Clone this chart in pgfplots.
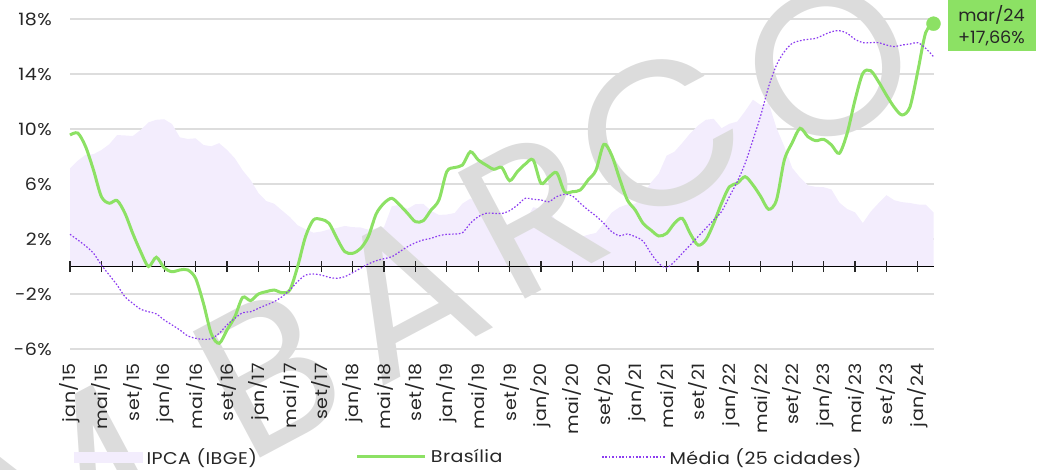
\documentclass[border=0pt]{standalone}
\usepackage{fontspec}
\setmainfont{Poppins}[FakeStretch=1.12, LetterSpace=2.5]
\newfontfamily\wmfont{Poppins}
\newfontfamily\boxfont{Poppins}[FakeStretch=1.04]
\usepackage{pgfplots}
\usepackage{pgfplotstable}
\pgfplotsset{compat=1.18}
\definecolor{lgreen}{RGB}{140,225,100}
\definecolor{vio}{RGB}{140,60,240}
\definecolor{lav}{RGB}{243,237,253}
\definecolor{gridc}{RGB}{221,221,221}
\definecolor{wm}{RGB}{220,220,220}

\pgfplotstableread{
m ipca bsb media
0 7.14 9.56 2.34
1 7.70 9.70 1.93
2 8.13 8.70 1.49
3 8.17 7.00 0.96
4 8.47 5.08 0.11
5 8.89 4.60 -0.62
6 9.56 4.80 -1.35
7 9.53 3.87 -2.20
8 9.49 2.40 -2.68
9 9.93 1.08 -3.11
10 10.48 0.00 -3.29
11 10.67 0.67 -3.45
12 10.71 -0.10 -3.89
13 10.36 -0.38 -4.25
14 9.39 -0.25 -4.62
15 9.28 -0.25 -5.05
16 9.32 -0.86 -5.22
17 8.84 -2.68 -5.30
18 8.74 -4.90 -5.25
19 8.97 -5.59 -4.86
20 8.48 -4.62 -4.25
21 7.87 -3.65 -3.77
22 6.99 -2.24 -3.36
23 6.29 -2.48 -3.29
24 5.35 -2.00 -3.04
25 4.76 -1.83 -2.80
26 4.57 -1.71 -2.56
27 4.08 -1.90 -2.20
28 3.60 -1.71 -1.71
29 3.00 0.00 -1.10
30 2.71 2.17 -0.62
31 2.46 3.38 -0.55
32 2.54 3.43 -0.62
33 2.70 3.14 -0.79
34 2.80 2.05 -0.86
35 2.95 1.08 -0.74
36 2.86 0.96 -0.45
37 2.84 1.30 -0.13
38 2.68 2.17 0.18
39 2.76 3.82 0.42
40 2.86 4.60 0.57
41 4.39 4.96 0.71
42 4.48 4.47 1.08
43 4.19 3.87 1.44
44 4.53 3.26 1.73
45 4.56 3.33 1.93
46 4.05 4.11 2.05
47 3.75 4.84 2.24
48 3.78 6.90 2.34
49 3.89 7.20 2.36
50 4.58 7.38 2.46
51 4.94 8.35 3.14
52 4.66 7.75 3.62
53 3.37 7.38 3.87
54 3.22 7.07 3.87
55 3.43 7.20 3.85
56 2.89 6.24 4.06
57 2.54 6.90 4.47
58 3.27 7.45 4.96
59 4.31 7.75 4.89
60 4.19 6.05 4.84
61 4.01 6.49 4.71
62 3.30 6.82 5.08
63 2.40 5.44 5.25
64 1.88 5.44 5.13
65 2.13 5.56 4.60
66 2.31 6.29 4.11
67 2.44 7.00 3.67
68 3.14 8.88 3.14
69 3.92 8.10 2.53
70 4.31 6.41 2.24
71 4.52 4.84 2.36
72 4.56 4.11 2.17
73 5.20 3.14 1.85
74 6.10 2.65 0.96
75 6.76 2.22 0.23
76 8.06 2.41 -0.09
77 8.35 3.14 0.35
78 8.99 3.50 0.96
79 9.68 2.41 1.56
80 10.25 1.56 2.17
81 10.67 1.93 2.78
82 10.74 3.14 3.38
83 10.06 4.60 3.99
84 10.38 5.80 5.08
85 10.54 6.05 6.17
86 11.30 6.53 7.50
87 12.13 5.93 9.20
88 11.73 5.08 11.00
89 11.89 4.16 13.08
90 10.07 4.84 14.65
91 8.73 7.75 15.62
92 7.17 9.00 16.23
93 6.47 10.05 16.42
94 5.90 9.44 16.52
95 5.79 9.15 16.59
96 5.77 9.25 16.84
97 5.60 8.84 17.08
98 4.65 8.23 17.15
99 4.18 9.69 16.96
100 3.94 12.10 16.52
101 3.16 14.05 16.28
102 3.99 14.24 16.28
103 4.61 13.44 16.28
104 5.19 12.47 16.11
105 4.82 11.58 15.99
106 4.68 11.02 16.11
107 4.62 11.60 16.18
108 4.51 14.20 16.28
109 4.50 17.00 15.87
110 3.93 17.66 15.26
}\data

\begin{document}
\begin{tikzpicture}
\path[use as bounding box] (0,0) rectangle (1045pt,469pt);
\pgfplotsset{
  common/.style={
    at={(70pt,120pt)}, anchor=south west,
    scale only axis, width=863.5pt, height=330pt,
    xmin=0, xmax=110, ymin=-6, ymax=18,
    axis line style={draw=none},
    major tick length=0pt,
    tick style={draw=none},
    ytick={-6,-2,2,6,10,14,18},
  }
}
% background axis: grid and area
\begin{axis}[common,
  xtick=\empty,
  yticklabels={,,,,,,},
  ymajorgrids,
  grid style={color=gridc, line width=1.2pt},
]
\addplot[fill=lav, draw=none] table[x=m, y=ipca]{\data} \closedcycle;
\end{axis}

% watermark
\begin{scope}[every node/.style={text=wm, font=\wmfont\fontsize{205}{205}\selectfont, rotate=28, inner sep=0pt}]
\node at (62pt,-12pt) {M};
\node at (268pt,96pt) {B};
\node at (405pt,175pt) {A};
\node at (533pt,255pt) {R};
\node at (660pt,335pt) {C};
\node at (828pt,405pt) {O};
\end{scope}

% foreground axis: labels, zero line, lines, legend
\begin{axis}[common,
  clip=false,
  xtick={0,4,...,108},
  yticklabels={-6\%,-2\%,2\%,6\%,10\%,14\%,18\%},
  xticklabels={jan/15,mai/15,set/15,jan/16,mai/16,set/16,jan/17,mai/17,set/17,jan/18,mai/18,set/18,jan/19,mai/19,set/19,jan/20,mai/20,set/20,jan/21,mai/21,set/21,jan/22,mai/22,set/22,jan/23,mai/23,set/23,jan/24},
  yticklabel style={inner sep=0pt, anchor=east, xshift=-18pt, font=\fontsize{17}{19}\selectfont, text=black!85},
  xticklabel style={inner sep=0pt, yshift=-14pt, rotate=90, anchor=east, font=\fontsize{17}{19}\selectfont, text=black!85},
  legend style={at={(0.0046,-0.327)}, anchor=west, draw=none, fill=none,
    inner sep=0pt, font=\fontsize{17}{19}\selectfont,
    nodes={inner xsep=4pt, inner ysep=1pt, text=black!85},
    /tikz/every even column/.append style={column sep=95pt}},
  legend columns=3, legend cell align=left,
]
\draw[black, line width=1.3pt] (axis cs:0,0) -- (axis cs:110,0);
\pgfplotsinvokeforeach{0,4,...,108}{
  \draw[black!85, line width=1.3pt] ([yshift=-5.5pt]axis cs:#1,0) -- ([yshift=5.5pt]axis cs:#1,0);
}
\addlegendimage{legend image code/.code={\fill[lav] (0pt,-5pt) rectangle (68pt,5pt);}}
\addlegendentry{IPCA (IBGE)}
\addplot[lgreen, line width=3pt, smooth, tension=0.5,
  legend image code/.code={\draw[lgreen, line width=3pt] (0pt,0pt) -- (68pt,0pt);}]
  table[x=m, y=bsb]{\data};
\addlegendentry{Brasília}
\addplot[vio, line width=1.2pt, smooth, tension=0.5, dash pattern=on 1.6pt off 1.8pt,
  legend image code/.code={\draw[vio, line width=1.2pt, dash pattern=on 1.6pt off 1.8pt] (0pt,0pt) -- (63pt,0pt);}]
  table[x=m, y=media]{\data};
\addlegendentry{Média (25 cidades)}
\addplot[only marks, mark=*, mark size=7pt, lgreen, forget plot] coordinates {(110,17.66)};
\node[fill=lgreen, minimum width=88pt, minimum height=51pt, align=center, inner sep=0pt,
  font=\boxfont\fontsize{17}{22.5}\selectfont, text=black!85, xshift=58pt, yshift=-1.8pt]
  at (axis cs:110,17.66) {mar/24\\+17,66\%};
\end{axis}
\end{tikzpicture}
\end{document}
